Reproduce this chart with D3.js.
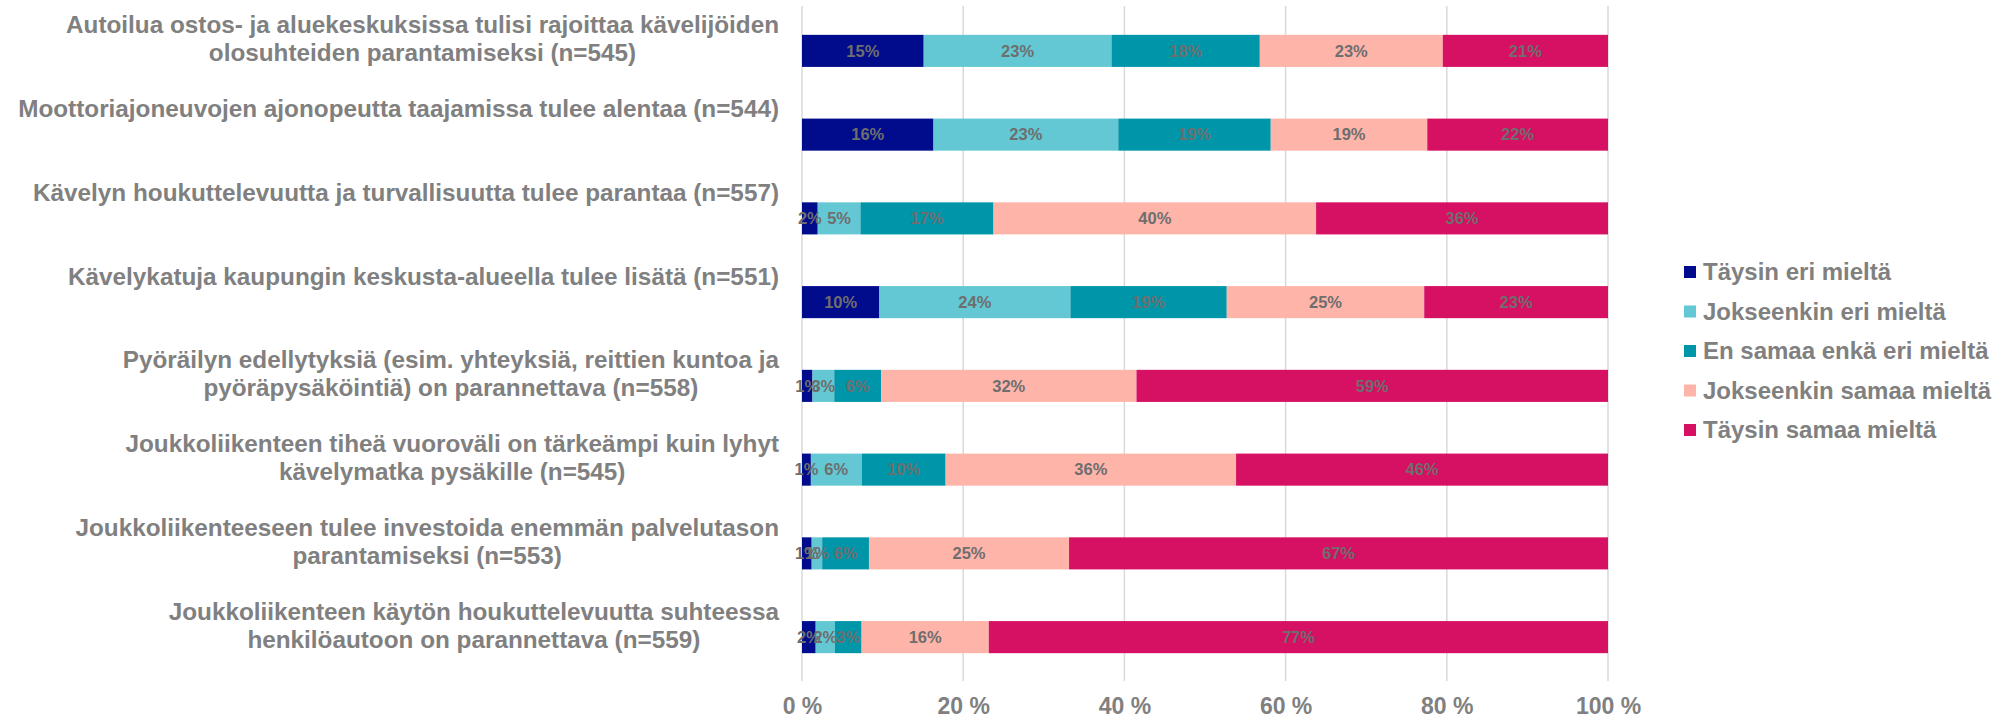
<!DOCTYPE html>
<html>
<head>
<meta charset="utf-8">
<script src="https://cdn.jsdelivr.net/npm/d3@7"></script>
<style>
  body { margin: 0; background: #fff; overflow: hidden; }
  svg { display: block; }
</style>
</head>
<body>
<script>
// categories (one entry per bar, lines split with \n)
var categories = [
    'Autoilua ostos- ja aluekeskuksissa tulisi rajoittaa kävelijöiden\nolosuhteiden parantamiseksi (n=545)',
    'Moottoriajoneuvojen ajonopeutta taajamissa tulee alentaa (n=544)',
    'Kävelyn houkuttelevuutta ja turvallisuutta tulee parantaa (n=557)',
    'Kävelykatuja kaupungin keskusta-alueella tulee lisätä (n=551)',
    'Pyöräilyn edellytyksiä (esim. yhteyksiä, reittien kuntoa ja\npyöräpysäköintiä) on parannettava (n=558)',
    'Joukkoliikenteen tiheä vuoroväli on tärkeämpi kuin lyhyt\nkävelymatka pysäkille (n=545)',
    'Joukkoliikenteeseen tulee investoida enemmän palvelutason\nparantamiseksi (n=553)',
    'Joukkoliikenteen käytön houkuttelevuutta suhteessa\nhenkilöautoon on parannettava (n=559)'
];

var seriesNames = ['Täysin eri mieltä', 'Jokseenkin eri mieltä', 'En samaa enkä eri mieltä', 'Jokseenkin samaa mieltä', 'Täysin samaa mieltä'];
var seriesColors = ['#000c8c', '#63c8d3', '#0096aa', '#ffb4a9', '#d61062'];

// shares in % per series, in category order
var taysinEri       = [15.1, 16.3, 1.95, 9.6, 1.3, 1.1, 1.2, 1.7];
var jokseenkinEri   = [23.3, 22.9, 5.3, 23.7, 2.7, 6.3, 1.3, 2.4];
var enSamaaEnkaEri  = [18.4, 18.9, 16.5, 19.4, 5.8, 10.4, 5.8, 3.3];
var jokseenkinSamaa = [22.7, 19.4, 40.0, 24.5, 31.7, 36.0, 24.8, 15.8];
var taysinSamaa     = [20.5, 22.4, 36.2, 22.8, 58.5, 46.1, 66.8, 76.9];

var tickValues = [0, 20, 40, 60, 80, 100];
var tickLabels = ['0 %', '20 %', '40 %', '60 %', '80 %', '100 %'];

var W = 1997, H = 719;
var plot = { left: 802, right: 1608, top: 9, bottom: 679 };
var grey = '#808080';
var font = "'Liberation Sans', Arial, sans-serif";

var svg = d3.select('body').append('svg')
    .attr('width', W)
    .attr('height', H)
    .style('font-family', font)
    .style('font-weight', 'bold');

// build rows, normalised to 100 % like a 100 % stacked bar
var keys = ['s0', 's1', 's2', 's3', 's4'];
var all = [taysinEri, jokseenkinEri, enSamaaEnkaEri, jokseenkinSamaa, taysinSamaa];
var rows = categories.map(function (c, i) {
    var r = { cat: c };
    var sum = 0;
    all.forEach(function (s) { sum += s[i]; });
    keys.forEach(function (k, j) { r[k] = all[j][i] / sum * 100; r[k + 'lab'] = Math.round(all[j][i]); });
    return r;
});

var x = d3.scaleLinear().domain([0, 100]).range([plot.left, plot.right]);
var y = d3.scaleBand().domain(d3.range(categories.length))
    .range([plot.top, plot.bottom])
    .paddingInner(0.617).paddingOuter(0.3085);

// gridlines
svg.append('g').selectAll('line')
    .data(tickValues)
    .enter().append('line')
    .attr('x1', function (d) { return x(d); })
    .attr('x2', function (d) { return x(d); })
    .attr('y1', plot.top - 3)
    .attr('y2', plot.bottom + 2)
    .attr('stroke', '#d9d9d9')
    .attr('stroke-width', 1.5);

// x axis labels
var xAxis = d3.axisBottom(x).tickValues(tickValues)
    .tickSize(0).tickPadding(0)
    .tickFormat(function (d, i) { return tickLabels[i]; });
var ax = svg.append('g').attr('transform', 'translate(0,' + (plot.bottom + 27) + ')').call(xAxis);
ax.select('.domain').remove();
ax.selectAll('text')
    .attr('fill', grey)
    .attr('dy', '0.35em')
    .style('font-family', font)
    .style('font-weight', 'bold')
    .style('font-size', '23px');

// stacked bars
var stack = d3.stack().keys(keys);
var layers = stack(rows);

var g = svg.append('g').selectAll('g')
    .data(layers)
    .enter().append('g')
    .attr('fill', function (d, i) { return seriesColors[i]; });

g.selectAll('rect')
    .data(function (d) { return d; })
    .enter().append('rect')
    .attr('x', function (d) { return x(d[0]); })
    .attr('width', function (d) { return x(d[1]) - x(d[0]); })
    .attr('y', function (d, i) { return y(i); })
    .attr('height', y.bandwidth());

// data labels
svg.append('g').selectAll('g')
    .data(layers)
    .enter().append('g')
    .selectAll('text')
    .data(function (d) { var k = d.key; return d.map(function (p, i) { return { p: p, lab: rows[i][k + 'lab'], i: i }; }); })
    .enter().append('text')
    .attr('x', function (d) { return (x(d.p[0]) + x(d.p[1])) / 2; })
    .attr('y', function (d) { return y(d.i) + y.bandwidth() / 2; })
    .attr('dy', '0.35em')
    .attr('text-anchor', 'middle')
    .attr('fill', '#6e6e6e')
    .style('font-size', '16.5px')
    .text(function (d) { return d.lab + '%'; });

// category labels: centred lines in a block right-aligned to the plot
var labelRight = 779;
svg.append('g').selectAll('g')
    .data(categories)
    .enter().append('g')
    .each(function (c, i) {
        var lines = c.split('\n');
        var texts = d3.select(this).selectAll('text').data(lines).enter().append('text')
            .attr('y', function (d, j) { return y(i) + y.bandwidth() / 2 - 26 + j * 28; })
            .attr('dy', '0.35em')
            .attr('fill', grey)
            .style('font-size', '24.3px')
            .text(function (d) { return d; });
        var widths = [];
        texts.each(function () { widths.push(this.getComputedTextLength()); });
        var maxW = d3.max(widths);
        texts.attr('text-anchor', 'middle').attr('x', labelRight - maxW / 2);
    });

// legend
var legend = svg.append('g').selectAll('g')
    .data(seriesNames)
    .enter().append('g')
    .attr('transform', function (d, i) { return 'translate(1684,' + (272 + i * 39.5) + ')'; });

legend.append('rect')
    .attr('x', 0).attr('y', -6)
    .attr('width', 12).attr('height', 12)
    .attr('fill', function (d, i) { return seriesColors[i]; });

legend.append('text')
    .attr('x', 19)
    .attr('dy', '0.35em')
    .attr('fill', grey)
    .style('font-size', '24px')
    .text(function (d) { return d; });
</script>
</body>
</html>
